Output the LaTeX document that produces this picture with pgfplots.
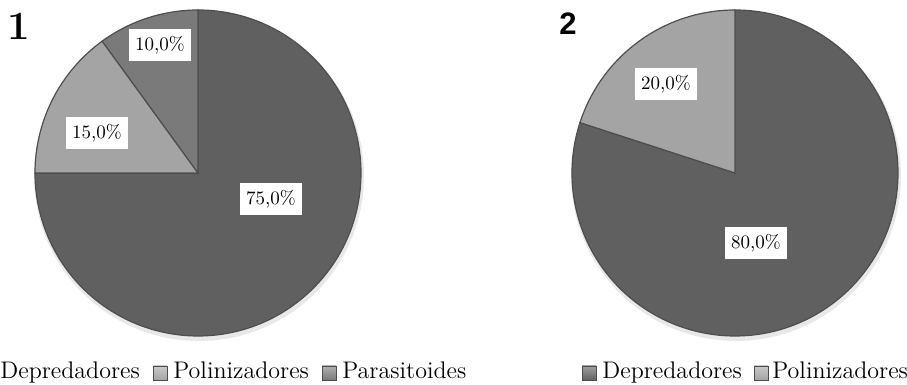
\documentclass[border=0pt]{standalone}
\usepackage{pgfplots}
\pgfplotsset{compat=1.18}
\usepackage{fontspec}
\newfontfamily\sansfnt{Liberation Sans}
\definecolor{dep}{RGB}{96,96,96}
\definecolor{pol}{RGB}{164,164,164}
\definecolor{par}{RGB}{122,122,122}
\definecolor{edge}{RGB}{78,78,78}
% data (percent)
\def\depA{75}\def\polA{15}\def\parA{10}
\def\depB{80}\def\polB{20}
\begin{document}
\begin{tikzpicture}[x=0.5pt,y=0.5pt]
\begin{axis}[at={(0,0)},anchor=south west, scale only axis,
  width=453.5pt, height=192.5pt, xmin=0,xmax=907,ymin=0,ymax=385,
  hide axis, clip=false]
% ---- pie 1 ----
\fill[black!20,opacity=0.45] (axis cs:199,209) circle[radius=82.5pt];
\filldraw[fill=dep,draw=edge,line width=0.6pt] (axis cs:198,212) -- ++(90:81.5pt)
  arc[start angle=90, delta angle={-3.6*\depA}, radius=81.5pt] -- cycle;
\filldraw[fill=pol,draw=edge,line width=0.6pt] (axis cs:198,212) -- ++({90-3.6*\depA}:81.5pt)
  arc[start angle={90-3.6*\depA}, delta angle={-3.6*\polA}, radius=81.5pt] -- cycle;
\filldraw[fill=par,draw=edge,line width=0.6pt] (axis cs:198,212) -- ++({90-3.6*(\depA+\polA)}:81.5pt)
  arc[start angle={90-3.6*(\depA+\polA)}, delta angle={-3.6*\parA}, radius=81.5pt] -- cycle;
% ---- pie 2 ----
\fill[black!20,opacity=0.45] (axis cs:736,209) circle[radius=82.5pt];
\filldraw[fill=dep,draw=edge,line width=0.6pt] (axis cs:735,212) -- ++(90:81.5pt)
  arc[start angle=90, delta angle={-3.6*\depB}, radius=81.5pt] -- cycle;
\filldraw[fill=pol,draw=edge,line width=0.6pt] (axis cs:735,212) -- ++({90-3.6*\depB}:81.5pt)
  arc[start angle={90-3.6*\depB}, delta angle={-3.6*\polB}, radius=81.5pt] -- cycle;
% ---- data labels ----
\tikzset{lbl/.style={fill=white, inner xsep=3pt, inner ysep=3.5pt, font=\fontsize{9.5}{11}\selectfont}}
\node[lbl] at (axis cs:160,340) {10,0\%};
\node[lbl] at (axis cs:97,252) {15,0\%};
\node[lbl] at (axis cs:271,186) {75,0\%};
\node[lbl] at (axis cs:666,301) {20,0\%};
\node[lbl] at (axis cs:756,142) {80,0\%};
% ---- panel numbers ----
\node[anchor=base west, inner sep=0pt, font=\fontsize{20}{22}\selectfont\bfseries] at (axis cs:7,345) {1};
\node[anchor=base west, inner sep=0pt, font=\fontsize{15.5}{18}\selectfont\sansfnt\bfseries] at (axis cs:559,350) {2};
% ---- legends ----
\tikzset{lg/.style={anchor=base west, inner sep=0pt, font=\fontsize{12}{14}\selectfont},
  mk/.style={draw=black!70, line width=0.3pt, top color=#1!60, bottom color=#1}}
\node[lg] at (axis cs:0,6) {Depredadores};
\fill[mk=pol] (axis cs:153,5) rectangle (axis cs:167,19);
\node[lg] at (axis cs:173,6) {Polinizadores};
\fill[mk=par] (axis cs:322,5) rectangle (axis cs:336,19);
\node[lg] at (axis cs:342,6) {Parasitoides};
\fill[mk=dep] (axis cs:582,5) rectangle (axis cs:596,19);
\node[lg] at (axis cs:602,6) {Depredadores};
\fill[mk=pol] (axis cs:754,5) rectangle (axis cs:768,19);
\node[lg] at (axis cs:772,6) {Polinizadores};
\end{axis}
\pgfresetboundingbox
\path (0,0) rectangle (907,385);
\end{tikzpicture}
\end{document}
